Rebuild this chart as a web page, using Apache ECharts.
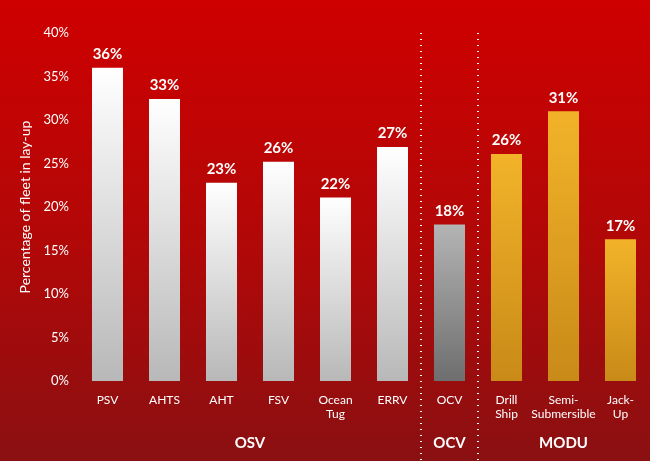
<!DOCTYPE html>
<html><head><meta charset="utf-8">
<script src="https://cdn.jsdelivr.net/npm/echarts@6/dist/echarts.min.js"></script>
<style>html,body{margin:0;padding:0;}#c{width:650px;height:461px;background:linear-gradient(180deg,#cf0000 0%,#b00808 55%,#8a1012 100%);}</style>
</head><body><div id="c"></div>
<script>
const categories = ["PSV","AHTS","AHT","FSV","Ocean\nTug","ERRV","OCV","Drill\nShip","Semi-\nSubmersible","Jack-\nUp"];
const values = [36,32.4,22.8,25.2,21.1,26.9,18.0,26.1,31.0,16.3];
const labels = ["36%","33%","23%","26%","22%","27%","18%","26%","31%","17%"];
const groups = ["OSV","OSV","OSV","OSV","OSV","OSV","OCV","MODU","MODU","MODU"];
const yTicks = [0,5,10,15,20,25,30,35,40];

const grad = (a,b)=>new echarts.graphic.LinearGradient(0,0,0,1,[{offset:0,color:a},{offset:1,color:b}]);
const styles = {
  OSV: grad('#ffffff','#b8b8b8'),
  OCV: grad('#b4b4b4','#6e6e6e'),
  MODU: grad('#f2b32a','#c98a18')
};
const FONT = 'Lato, "Open Sans", sans-serif';
const chart = echarts.init(document.getElementById('c'));
chart.setOption({
  animation:false,
  textStyle:{fontFamily:FONT},
  grid:{left:79,right:1,top:33,bottom:80},
  xAxis:{type:'category',data:categories,axisLine:{show:false},axisTick:{show:false},
    axisLabel:{color:'#fff',fontSize:12,margin:12,lineHeight:14,interval:0,fontFamily:FONT}},
  yAxis:{type:'value',min:0,max:40,interval:5,splitLine:{show:false},
    axisLabel:{color:'#fff',fontSize:13,formatter:v=>v+'%',margin:10,fontFamily:FONT},
    name:'Percentage of fleet in lay-up',nameLocation:'middle',nameGap:46,nameRotate:90,
    nameTextStyle:{color:'#fff',fontSize:14,fontFamily:FONT}},
  series:[{type:'bar',barWidth:31,
    data:values.map((v,i)=>({value:v,itemStyle:{color:styles[groups[i]]}})),
    label:{show:true,position:'top',color:'#fff',fontSize:15,fontWeight:'bold',distance:6,
      formatter:p=>labels[p.dataIndex],fontFamily:FONT}}]
});
function deco(){
  const px=i=>chart.convertToPixel({xAxisIndex:0},i);
  const top=chart.convertToPixel({yAxisIndex:0},40);
  const els=[];
  for(let i=1;i<groups.length;i++){
    if(groups[i]!==groups[i-1]){
      const x=(px(i-1)+px(i))/2;
      els.push({type:'line',shape:{x1:x,y1:top,x2:x,y2:461},style:{stroke:'#fff',lineWidth:2,lineDash:[1,5]}});
    }
  }
  const uniq=[...new Set(groups)];
  uniq.forEach(g=>{
    const idx=groups.map((x,i)=>x===g?i:-1).filter(i=>i>=0);
    const cx=(px(idx[0])+px(idx[idx.length-1]))/2;
    els.push({type:'text',x:cx,y:443,style:{text:g,fill:'#fff',font:'bold 15px '+FONT,textAlign:'center',textVerticalAlign:'middle'}});
  });
  chart.setOption({graphic:els});
}
deco();
</script></body></html>
